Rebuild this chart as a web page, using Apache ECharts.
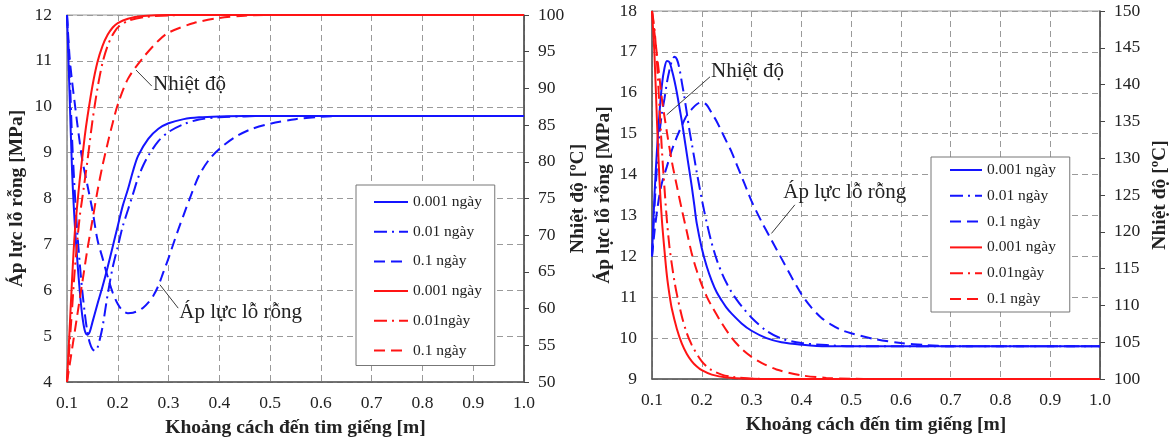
<!DOCTYPE html>
<html><head><meta charset="utf-8">
<script src="https://cdn.jsdelivr.net/npm/echarts@6/dist/echarts.min.js"></script>
<style>html,body{margin:0;padding:0;background:#fff}#c{width:1173px;height:443px}</style>
</head><body><div id="c"></div>
<script>
// ---------- Tick labels / axis ranges ----------
const xTicks = [0.1, 0.2, 0.3, 0.4, 0.5, 0.6, 0.7, 0.8, 0.9, 1.0];
const leftPressTicks = [4, 5, 6, 7, 8, 9, 10, 11, 12];
const leftTempTicks = [50, 55, 60, 65, 70, 75, 80, 85, 90, 95, 100];
const rightPressTicks = [9, 10, 11, 12, 13, 14, 15, 16, 17, 18];
const rightTempTicks = [100, 105, 110, 115, 120, 125, 130, 135, 140, 145, 150];

// ---------- Legend names ----------
const names = ['0.001 ngày', '0.01 ngày', '0.1 ngày', '0.001 ngày ', '0.01ngày', '0.1 ngày '];

// ---------- LEFT CHART: pore pressure [MPa] ----------
const L_p1_x = [0.1,0.105,0.11,0.115,0.12,0.125,0.13,0.135,0.14,0.145,0.15,0.16,0.17,0.18,0.19,0.2,0.21,0.22,0.23,0.24,0.26,0.28,0.3,0.33,0.36,0.4,0.45,0.5,1.0];
const L_p1_y = [12,10.3,8.6,7.5,6.7,6.0,5.45,5.12,5.03,5.1,5.3,5.7,6.08,6.5,6.95,7.4,7.85,8.2,8.6,8.93,9.3,9.52,9.64,9.73,9.77,9.79,9.8,9.8,9.8];
const L_p2_x = [0.1,0.105,0.11,0.115,0.12,0.125,0.13,0.135,0.14,0.145,0.15,0.155,0.16,0.165,0.17,0.18,0.19,0.2,0.21,0.22,0.23,0.24,0.25,0.26,0.28,0.3,0.33,0.36,0.4,0.45,0.5,1.0];
const L_p2_y = [12,10.8,9.3,8.2,7.3,6.6,6.0,5.5,5.1,4.85,4.72,4.68,4.75,4.95,5.2,5.9,6.5,6.95,7.4,7.75,8.1,8.45,8.72,8.93,9.25,9.45,9.62,9.72,9.77,9.79,9.8,9.8];
const L_p3_x = [0.1,0.105,0.11,0.115,0.12,0.13,0.14,0.15,0.16,0.17,0.18,0.19,0.2,0.21,0.22,0.23,0.24,0.25,0.26,0.27,0.28,0.29,0.3,0.31,0.32,0.33,0.34,0.36,0.38,0.4,0.43,0.46,0.5,0.55,0.6,0.65,1.0];
const L_p3_y = [12,11.1,10.55,10.1,9.65,8.85,8.3,7.75,7.1,6.7,6.3,5.95,5.7,5.55,5.5,5.51,5.55,5.62,5.73,5.88,6.1,6.4,6.7,7.03,7.35,7.65,7.95,8.5,8.85,9.08,9.33,9.5,9.63,9.73,9.78,9.8,9.8];
// ---------- LEFT CHART: temperature [ºC] ----------
const L_t1_x = [0.1,0.105,0.11,0.115,0.12,0.125,0.13,0.135,0.14,0.15,0.16,0.17,0.18,0.19,0.2,0.22,0.25,0.3,1.0];
const L_t1_y = [50,57,64,70,74,77.5,80.5,83.5,86,90.3,93.6,95.8,97.3,98.3,98.9,99.5,99.85,100,100];
const L_t2_x = [0.1,0.105,0.11,0.115,0.12,0.125,0.13,0.14,0.15,0.16,0.17,0.18,0.19,0.2,0.22,0.25,0.3,0.35,1.0];
const L_t2_y = [50,55,60,65,69,72.5,75,80,85.5,90,93.5,95.8,97.3,98.3,99.2,99.7,99.95,100,100];
const L_t3_x = [0.1,0.11,0.12,0.13,0.14,0.15,0.16,0.17,0.18,0.19,0.2,0.22,0.25,0.28,0.3,0.35,0.4,0.45,0.5,1.0];
const L_t3_y = [50,54.5,59,63.5,68,72,76,79.5,82.5,85.3,87.8,91.3,94.2,96.5,97.6,98.9,99.6,99.9,100,100];

// ---------- RIGHT CHART: pore pressure [MPa] ----------
const R_p1_x = [0.1,0.105,0.11,0.115,0.12,0.125,0.13,0.135,0.14,0.145,0.15,0.155,0.16,0.165,0.17,0.175,0.18,0.185,0.19,0.2,0.21,0.22,0.23,0.24,0.25,0.26,0.28,0.3,0.33,0.36,0.4,0.45,1.0];
const R_p1_y = [12,13.5,14.6,15.5,16.2,16.6,16.78,16.75,16.55,16.3,16.0,15.65,15.3,14.9,14.5,14.1,13.7,13.25,12.8,12.2,11.75,11.4,11.12,10.92,10.74,10.6,10.36,10.18,10.0,9.9,9.84,9.8,9.8];
const R_p2_x = [0.1,0.105,0.11,0.115,0.12,0.125,0.13,0.135,0.14,0.145,0.15,0.155,0.16,0.165,0.17,0.175,0.18,0.185,0.19,0.195,0.2,0.205,0.21,0.22,0.23,0.24,0.25,0.26,0.27,0.28,0.3,0.33,0.36,0.4,0.45,0.5,1.0];
const R_p2_y = [12,13.2,14.2,15.0,15.5,15.85,16.25,16.55,16.78,16.88,16.82,16.6,16.25,15.9,15.5,15.1,14.75,14.4,14.05,13.72,13.4,13.1,12.82,12.32,11.92,11.6,11.34,11.12,10.94,10.78,10.5,10.18,9.99,9.88,9.83,9.8,9.8];
const R_p3_x = [0.1,0.105,0.11,0.115,0.12,0.13,0.14,0.15,0.16,0.17,0.18,0.19,0.2,0.21,0.22,0.23,0.24,0.25,0.26,0.27,0.28,0.29,0.3,0.32,0.34,0.36,0.38,0.4,0.42,0.44,0.46,0.48,0.5,0.55,0.6,0.65,0.7,1.0];
const R_p3_y = [12,12.6,13.1,13.5,13.8,14.2,14.6,14.92,15.2,15.45,15.6,15.72,15.77,15.7,15.5,15.3,15.05,14.8,14.55,14.25,13.95,13.65,13.35,12.85,12.4,11.95,11.5,11.08,10.75,10.5,10.33,10.2,10.12,9.97,9.88,9.83,9.8,9.8];
// ---------- RIGHT CHART: temperature [ºC] ----------
const R_t1_x = [0.1,0.105,0.11,0.115,0.12,0.125,0.13,0.135,0.14,0.15,0.16,0.17,0.18,0.19,0.2,0.22,0.25,0.3,0.35,1.0];
const R_t1_y = [150,144,135,127,121.5,117.5,114,111.5,109.5,106.8,104.8,103.4,102.4,101.7,101.2,100.6,100.2,100.03,100,100];
const R_t2_x = [0.1,0.105,0.11,0.115,0.12,0.125,0.13,0.135,0.14,0.145,0.15,0.16,0.17,0.18,0.19,0.2,0.21,0.22,0.24,0.26,0.3,0.35,1.0];
const R_t2_y = [150,147.5,143,137,131,126,121.5,118,115.5,113.3,111.5,108.5,106.2,104.6,103.4,102.4,101.7,101.2,100.6,100.3,100.05,100,100];
const R_t3_x = [0.1,0.105,0.11,0.115,0.12,0.13,0.14,0.15,0.16,0.17,0.18,0.19,0.2,0.21,0.22,0.24,0.26,0.28,0.3,0.32,0.35,0.4,0.45,0.5,0.55,1.0];
const R_t3_y = [150,147,144,141,138,133.5,129.5,126.2,123,120,117,114.7,112.8,111.2,109.9,107.6,105.6,104.1,103,102.2,101.3,100.5,100.15,100.03,100,100];

// ---------- Annotations (data coordinates on the pressure axis) ----------
const annLeft = [
  {text: 'Nhiệt độ', from: [0.236, 10.80], to: [0.267, 10.45], at: [0.2693, 10.475]},
  {text: 'Áp lực lỗ rỗng', from: [0.283, 6.12], to: [0.319, 5.61], at: [0.321, 5.51]}
];
const annRight = [
  {text: 'Nhiệt độ', from: [0.1295, 15.46], to: [0.2165, 16.39], at: [0.2185, 16.52]},
  {text: 'Áp lực lỗ rỗng', from: [0.34, 12.56], to: [0.387, 13.26], at: [0.3638, 13.55]}
];

// ---------- Build ----------
const FONT = 'Liberation Serif';
const BLUE = '#1414ff', RED = '#ff1414';
const SOLID = 'solid', DASHDOT = [13, 5, 2, 5], DASH = [11, 6];
const zip = (xs, ys) => xs.map((x, i) => [x, ys[i]]);

function mk(name, xs, ys, color, type, gi, yi, ann) {
  const s = {
    name, type: 'line', xAxisIndex: gi, yAxisIndex: yi,
    data: zip(xs, ys), symbol: 'none', showSymbol: false,
    smooth: 0.3,
    lineStyle: {color, width: 2, type},
    itemStyle: {color},
    z: 3
  };
  if (ann) {
    s.markLine = {
      silent: true, symbol: ['none', 'none'], animation: false,
      lineStyle: {color: '#3a3a3a', width: 1, type: 'solid'},
      label: {show: false},
      data: ann.map(a => [{coord: a.from}, {coord: a.to}])
    };
    s.markPoint = {
      silent: true, animation: false,
      data: ann.map(a => ({
        coord: a.at, symbol: 'circle', symbolSize: 0.1,
        label: {show: true, position: 'right', distance: 0, formatter: a.text,
                fontFamily: FONT, fontSize: 21, color: '#222'}
      }))
    };
  }
  return s;
}

const series = [
  mk(names[0], L_p1_x, L_p1_y, BLUE, SOLID, 0, 0, annLeft),
  mk(names[1], L_p2_x, L_p2_y, BLUE, DASHDOT, 0, 0),
  mk(names[2], L_p3_x, L_p3_y, BLUE, DASH, 0, 0),
  mk(names[3], L_t1_x, L_t1_y, RED, SOLID, 0, 1),
  mk(names[4], L_t2_x, L_t2_y, RED, DASHDOT, 0, 1),
  mk(names[5], L_t3_x, L_t3_y, RED, DASH, 0, 1),
  mk(names[0], R_p1_x, R_p1_y, BLUE, SOLID, 1, 2, annRight),
  mk(names[1], R_p2_x, R_p2_y, BLUE, DASHDOT, 1, 2),
  mk(names[2], R_p3_x, R_p3_y, BLUE, DASH, 1, 2),
  mk(names[3], R_t1_x, R_t1_y, RED, SOLID, 1, 3),
  mk(names[4], R_t2_x, R_t2_y, RED, DASHDOT, 1, 3),
  mk(names[5], R_t3_x, R_t3_y, RED, DASH, 1, 3)
];

const tickFont = {fontFamily: FONT, fontSize: 17.5, color: '#222'};
const nameFont = {fontFamily: FONT, fontSize: 19.5, fontWeight: 'bold', color: '#222'};
const gridLine = {show: true, lineStyle: {color: '#9a9a9a', width: 1, type: [6, 4]}};

function xAx(gi) {
  return {
    gridIndex: gi, type: 'value', min: xTicks[0], max: xTicks[xTicks.length - 1],
    interval: 0.1,
    axisLabel: Object.assign({margin: 12, formatter: v => v.toFixed(1)}, tickFont),
    axisLine: {show: true, lineStyle: {color: '#555', width: 1.5}},
    axisTick: {show: false},
    splitLine: gridLine,
    name: 'Khoảng cách đến tim giếng [m]', nameLocation: 'middle', nameGap: 36,
    nameTextStyle: nameFont
  };
}
function yAxLeft(gi, ticks, lineColor, gap) {
  return {
    gridIndex: gi, type: 'value', position: 'left',
    min: ticks[0], max: ticks[ticks.length - 1], interval: ticks[1] - ticks[0],
    axisLabel: Object.assign({margin: 15}, tickFont),
    axisLine: {show: true, lineStyle: {color: lineColor, width: 1.5}},
    axisTick: {show: false},
    splitLine: gridLine,
    name: 'Áp lực lỗ rỗng [MPa]', nameLocation: 'middle', nameRotate: 90, nameGap: gap,
    nameTextStyle: nameFont
  };
}
function yAxRight(gi, ticks, gap) {
  return {
    gridIndex: gi, type: 'value', position: 'right',
    min: ticks[0], max: ticks[ticks.length - 1], interval: ticks[1] - ticks[0],
    axisLabel: Object.assign({margin: 14}, tickFont),
    axisLine: {show: true, lineStyle: {color: '#444', width: 1.5}},
    axisTick: {show: true, inside: false, length: 5, lineStyle: {color: '#444', width: 1}},
    splitLine: {show: false},
    name: 'Nhiệt độ [ºC]', nameLocation: 'middle', nameRotate: 90, nameGap: gap,
    nameTextStyle: nameFont
  };
}

const legendBase = {
  data: names, orient: 'vertical', itemHeight: 14,
  backgroundColor: '#fff', borderColor: '#777', borderWidth: 1, borderRadius: 0,
  textStyle: {fontFamily: FONT, fontSize: 15.5, color: '#222'},
  itemStyle: {opacity: 0},
  selectedMode: false
};

const option = {
  animation: false,
  backgroundColor: '#fff',
  grid: [
    {left: 67, right: 1173 - 524, top: 15, bottom: 443 - 382, show: true, borderColor: '#9a9a9a', borderWidth: 1},
    {left: 652, right: 1173 - 1100, top: 11, bottom: 443 - 379, show: true, borderColor: '#9a9a9a', borderWidth: 1}
  ],
  xAxis: [xAx(0), xAx(1)],
  yAxis: [
    yAxLeft(0, leftPressTicks, '#9a9a9a', 40),
    yAxRight(0, leftTempTicks, 42),
    yAxLeft(1, rightPressTicks, '#555', 38),
    yAxRight(1, rightTempTicks, 50)
  ],
  legend: [
    Object.assign({}, legendBase, {left: 356, top: 185, itemWidth: 34, itemGap: 13.7, padding: [9, 9, 7, 17]}),
    Object.assign({}, legendBase, {left: 931, top: 157, itemWidth: 32, itemGap: 9.8, padding: [5, 10, 5, 18]})
  ],
  series
};

const chart = echarts.init(document.getElementById('c'), null, {renderer: 'canvas'});
chart.setOption(option);
</script>
</body></html>
